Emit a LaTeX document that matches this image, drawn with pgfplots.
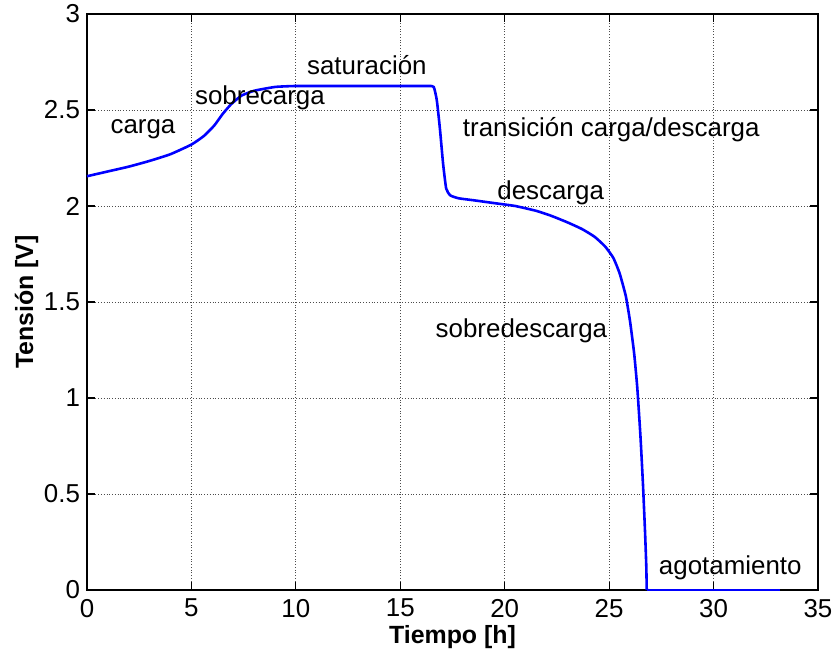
\documentclass[border=0pt]{standalone}
\usepackage{pgfplots}
\pgfplotsset{compat=1.18}
\usepackage{fontspec}
\setmainfont{Liberation Sans}
\begin{document}
\begin{tikzpicture}[x=1bp,y=1bp]
\path[use as bounding box] (-43.5,-33.5) rectangle (374,295);
\begin{axis}[
  at={(0,0)}, anchor=south west,
  scale only axis, width=365.5bp, height=288bp,
  xmin=0, xmax=35, ymin=0, ymax=3,
  xtick={0,5,...,35}, ytick={0,0.5,...,3},
  yticklabels={0,0.5,1,1.5,2,2.5,3},
  grid=major,
  major grid style={densely dotted, gray!60!black, line width=0.5pt},
  axis line style={black, line width=1pt},
  tick style={black, line width=0.6pt},
  tick align=inside, major tick length=4bp,
  ticklabel style={font=\fontsize{13}{15}\selectfont},
  /pgf/number format/assume math mode=true,
  xticklabel style={yshift=-1bp},
  xlabel={\bfseries Tiempo [h]}, ylabel={\bfseries Tensión [V]},
  label style={font=\fontsize{12.5}{14}\selectfont},
  xlabel style={yshift=3bp},
  ylabel style={yshift=-4bp},
  clip=false,
]
\addplot[blue, line width=1.3pt, smooth, tension=0.3] coordinates {
(0,2.155) (1,2.18) (2,2.205) (3,2.235) (4,2.27) (5,2.32) (5.6,2.365) (6.1,2.42) (6.5,2.48) (6.9,2.53) (7.4,2.575) (8,2.60) (9,2.62) (10,2.625) (12,2.625) (14,2.625) (16.3,2.625) (16.6,2.62)
(16.75,2.55) (16.9,2.40) (17.05,2.22) (17.2,2.09) (17.4,2.055) (17.8,2.04) (18.5,2.03) (19.5,2.015) (20.5,2.0) (21.5,1.975) (22.2,1.95) (23,1.915) (23.7,1.88) (24.3,1.84) (24.8,1.79) (25.2,1.73) (25.5,1.65) (25.8,1.53) (26.0,1.40) (26.2,1.23) (26.35,1.05) (26.5,0.80) (26.62,0.55) (26.72,0.30) (26.78,0.12) (26.8,0.0)
};
\addplot[blue, line width=1.3pt] coordinates {(26.8,0.0) (28,0.0) (30,0.0) (33.2,0.0)};
\tikzset{lab/.style={font=\fontsize{13}{15}\selectfont, inner sep=0pt}}
\node[lab] at (axis cs:2.68,2.40) {carga};
\node[lab] at (axis cs:8.28,2.565) {sobrecarga};
\node[lab] at (axis cs:13.4,2.735) {saturación};
\node[lab] at (axis cs:25.1,2.40) {transición carga/descarga};
\node[lab] at (axis cs:22.2,2.07) {descarga};
\node[lab] at (axis cs:20.8,1.35) {sobredescarga};
\node[lab] at (axis cs:30.8,0.115) {agotamiento};
\end{axis}
\end{tikzpicture}
\end{document}
